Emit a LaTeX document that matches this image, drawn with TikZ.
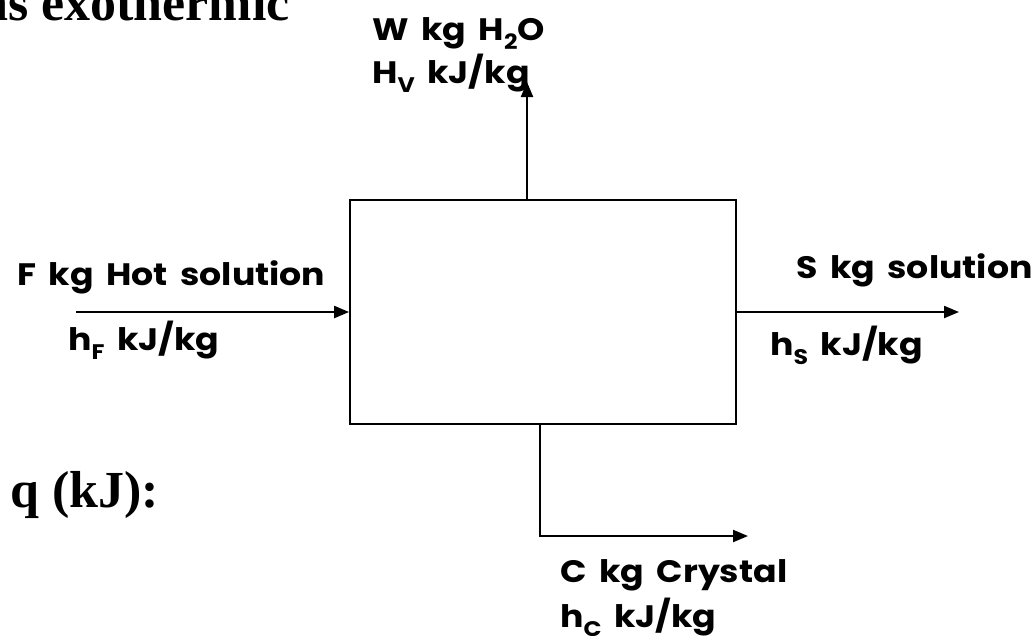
\documentclass[tikz,border=0pt]{standalone}
\usepackage{fontspec}
\usetikzlibrary{arrows.meta}
\newfontfamily\comicfont{Poppins}[FakeStretch=1.12,WordSpace=1.7]
\newfontfamily\timesfont{Liberation Serif}
\newcommand{\lowsub}[1]{\raisebox{-0.3em}{\scalebox{0.68}{#1}}}
\begin{document}
\begin{tikzpicture}[x=1pt,y=-1pt,
  lbl/.style={anchor=base west,inner sep=0pt,font=\comicfont\bfseries\fontsize{31}{36}\selectfont},
  big/.style={inner sep=0pt,font=\timesfont\bfseries\fontsize{52}{60}\selectfont},
  flow/.style={line width=2.2pt,-{Triangle[length=15pt,width=12pt]}},
  unit/.style={draw,line width=1.8pt,minimum width=386pt,minimum height=224pt,inner sep=0pt}]
\useasboundingbox (0,0) rectangle (1035,635);
\node[unit] (box) at (543,312) {};
\coordinate (vtop) at (527,82);
\coordinate (fin) at (76,312);
\coordinate (sout) at (959,312);
\coordinate (cdown) at (540,536);
\coordinate (cend) at (748,536);
\draw[flow] (vtop |- box.north) -- (vtop);
\draw[flow] (fin) -- (box.west);
\draw[flow] (box.east) -- (sout);
\draw[flow] (cdown |- box.south) -- (cdown) -- (cend);
\node[big,anchor=base east] (exo) at (290,20) {as exothermic};
\node[big,anchor=base west] (q) at (10,507) {q (kJ):};
\node[lbl] (w) at (372,40) {W kg H\lowsub{2}O};
\node[lbl] (hv) at (372,83) {H\lowsub{V} kJ/kg};
\node[lbl] (f) at (17,285) {F kg Hot solution};
\node[lbl] (hf) at (68,350) {h\lowsub{F} kJ/kg};
\node[lbl] (s) at (796,278) {S kg solution};
\node[lbl] (hs) at (770,355) {h\lowsub{S} kJ/kg};
\node[lbl] (c) at (560,582) {C kg Crystal};
\node[lbl] (hc) at (560,627) {h\lowsub{C} kJ/kg};
\end{tikzpicture}
\end{document}
